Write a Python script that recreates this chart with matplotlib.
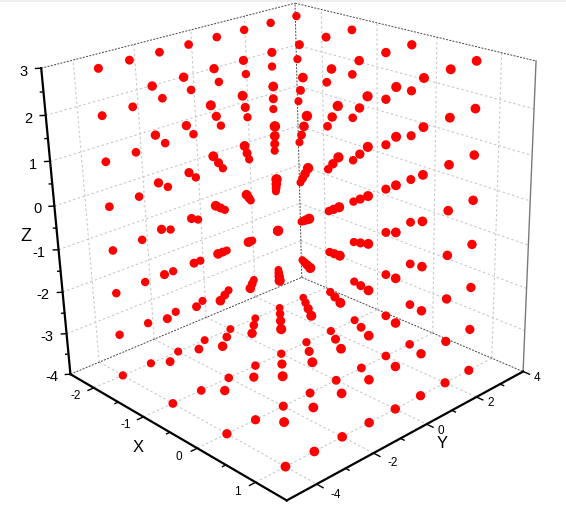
import numpy as np
import matplotlib
matplotlib.use("Agg")
import matplotlib.pyplot as plt
from matplotlib.patches import Rectangle
from matplotlib.text import Text

plt.rcParams['font.family'] = ['Liberation Sans', 'DejaVu Sans']

W, H = 566, 507
x_limits = (-2.5, 1.5)
y_limits = (-5.0, 4.0)
z_limits = (-4.0, 3.0)
x_values = [-2, -1, 0, 1]
y_values = [-4, -3, -2, -1, 0, 1, 2, 3]
z_values = [-4, -3, -2, -1, 0, 1, 2, 3]
x_ticks = [-2, -1, 0, 1]
y_ticks = [-4, -2, 0, 2, 4]
z_ticks = [-4, -3, -2, -1, 0, 1, 2, 3]
x_minor = [-1.5, -0.5, 0.5]
y_minor = [-3, -1, 1, 3]
z_minor = [-3.5, -2.5, -1.5, -0.5, 0.5, 1.5, 2.5]

fig = plt.figure(figsize=(W/100, H/100), dpi=100, facecolor='white')
S = 600.0
ax = fig.add_axes([-16.8058/W, -26.7407/H, S/W, S/H], projection='3d', computed_zorder=False)
ax.set_xticks([]); ax.set_yticks([]); ax.set_zticks([])
ax.set_axis_off()
ax.patch.set_alpha(0)
ax.set_xlim(*x_limits); ax.set_ylim(*y_limits); ax.set_zlim(*z_limits)
ax.view_init(elev=22.8539, azim=-42.4186, roll=1.5639)
ax.set_proj_type('persp', focal_length=0.448)
ax.set_box_aspect((1, 1.0013, 0.9987), zoom=0.9371)
for t in ax.findobj(Text):
    if not t.get_text():
        t.set_visible(False)

x0, x1 = x_limits; y0, y1 = y_limits; z0, z1 = z_limits

def seg(a, b, **kw):
    ax.plot([a[0], b[0]], [a[1], b[1]], [a[2], b[2]], **kw)

grid = dict(color='#c9c9c9', lw=0.8, dashes=(2.2, 2.2), zorder=1)
for y in y_ticks[:-1]:
    seg((x0, y, z0), (x0, y, z1), **grid)
    seg((x0, y, z0), (x1, y, z0), **grid)
for x in x_ticks:
    seg((x, y1, z0), (x, y1, z1), **grid)
    seg((x, y0, z0), (x, y1, z0), **grid)
for z in z_ticks[1:-1]:
    seg((x0, y0, z), (x0, y1, z), **grid)
    seg((x0, y1, z), (x1, y1, z), **grid)

edge = dict(color='#444444', lw=0.7, dashes=(2.0, 1.4), zorder=2)
seg((x0, y0, z1), (x0, y1, z1), **edge)
seg((x0, y1, z1), (x1, y1, z1), **edge)
seg((x0, y1, z0), (x0, y1, z1), **edge)
seg((x0, y0, z0), (x0, y1, z0), **edge)
seg((x0, y1, z0), (x1, y1, z0), **edge)
seg((x1, y1, z0), (x1, y1, z1), color='#7a7a7a', lw=1.0, zorder=2)

# points
gx, gy, gz = np.meshgrid(x_values, y_values, z_values, indexing='ij')
gx, gy, gz = gx.ravel(), gy.ravel(), gz.ravel()
diam_px = 7.6 + (gx + 2) / 3 * 1.5 + (3 - gy) / 7 * 0.7 + (gz + 4) / 7 * 0.7
ax.scatter(gx, gy, gz, s=(diam_px * 0.72) ** 2, c='#ff0000', linewidths=0,
           depthshade=False, alpha=1, zorder=3)

axis = dict(color='black', lw=1.6, solid_capstyle='projecting', zorder=4)
seg((x0, y0, z0), (x0, y0, z1), **axis)
seg((x0, y0, z0), (x1, y0, z0), **axis)
seg((x1, y0, z0), (x1, y1, z0), **axis)

tick = dict(color='black', lw=1.0, zorder=4)
for x in x_ticks:
    seg((x, y0, z0), (x, y0 - 0.2, z0), **tick)
for x in x_minor:
    seg((x, y0, z0), (x, y0 - 0.11, z0), **tick)
for y in y_ticks:
    seg((x1, y, z0), (x1 + 0.1, y, z0), **tick)
for y in y_minor:
    seg((x1, y, z0), (x1 + 0.055, y, z0), **tick)
for z in z_ticks:
    seg((x0, y0, z), (x0 - 0.04, y0 - 0.113, z), **tick)
for z in z_minor:
    seg((x0, y0, z), (x0 - 0.022, y0 - 0.062, z), **tick)

for x in x_ticks:
    ax.text(x, y0 - 0.6, z0, str(x), fontsize=8.5, rotation=30, ha='center', va='center')
for y in y_ticks:
    ax.text(x1 + (0.3 if y < 0 else 0.22), y, z0, str(y), fontsize=8.5, rotation=-35, ha='center', va='center')
for z in z_ticks:
    ax.text(x0 - 0.1, y0 - 0.28, z - 0.06, str(z), fontsize=10.5, ha='right', va='center')

ax.text(-0.5, y0 - 1.05, z0, 'X', fontsize=12, rotation=40, ha='center', va='center')
ax.text(x1 + 0.42, -0.45, z0, 'Y', fontsize=12, rotation=-60, ha='center', va='center')
ax.text(x0 - 0.23, y0 - 0.66, -0.65, 'Z', fontsize=13, rotation=90, ha='center', va='center')

fig.add_artist(Rectangle((0, 1 - 1.5 / H), 1, 1.5 / H, transform=fig.transFigure,
                         facecolor='#eeeeee', edgecolor='none'))
fig.savefig('out.png', dpi=100)
